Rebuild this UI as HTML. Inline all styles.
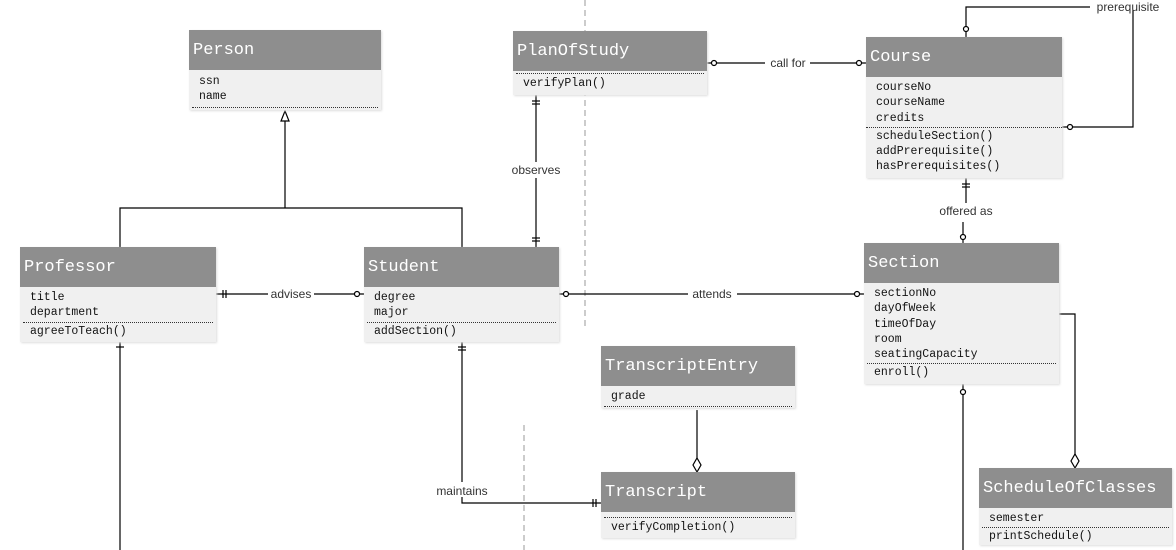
<!DOCTYPE html>
<html><head><style>
body{margin:0;width:1176px;height:550px;background:#fff;position:relative;overflow:hidden;font-family:"Liberation Mono","DejaVu Sans Mono",monospace;}
.b{position:absolute;background:#f0f0f0;box-shadow:1px 1px 2px #ddd;}
.h{background:#8e8e8e;color:#fff;height:40px;line-height:42px;font-size:17px;padding-left:4px;}
.r{font-size:11.5px;color:#111;padding-left:10px;line-height:15.3px;}
.d{border-top:1px dotted #333;margin:2px 3px;}
svg{position:absolute;left:0;top:0}
.l{font-family:"Liberation Sans",sans-serif;font-size:12px;fill:#333}
</style></head><body>
<svg width="1176" height="550">
<g stroke="#000" stroke-width="1.2" fill="none">
<line x1="585" y1="0" x2="585" y2="330" stroke="#aaa" stroke-dasharray="6,4"/>
<line x1="524" y1="425" x2="524" y2="550" stroke="#aaa" stroke-dasharray="6,4"/>
<polyline points="120,247 120,208 462,208 462,247"/>
<line x1="285" y1="208" x2="285" y2="121"/>
<polygon points="285,111 281,121 289,121" fill="#fff"/>
<line x1="536" y1="95" x2="536" y2="162"/><line x1="536" y1="178" x2="536" y2="247"/>
<line x1="532" y1="101" x2="540" y2="101"/><line x1="532" y1="104" x2="540" y2="104"/>
<line x1="532" y1="238" x2="540" y2="238"/><line x1="532" y1="241" x2="540" y2="241"/>
<line x1="707" y1="63" x2="765" y2="63"/><line x1="810" y1="63" x2="866" y2="63"/>
<circle cx="714" cy="63" r="2.5" fill="#fff"/><circle cx="859" cy="63" r="2.5" fill="#fff"/>
<polyline points="966,37 966,7 1090,7"/><polyline points="1133,10 1133,127 1062,127"/>
<circle cx="966" cy="29" r="2.5" fill="#fff"/><circle cx="1070" cy="127" r="2.5" fill="#fff"/>
<line x1="966" y1="178" x2="966" y2="203"/><line x1="963" y1="222" x2="963" y2="243"/>
<line x1="962" y1="184" x2="970" y2="184"/><line x1="962" y1="187" x2="970" y2="187"/>
<circle cx="963" cy="237" r="2.5" fill="#fff"/>
<line x1="216" y1="294" x2="268" y2="294"/><line x1="314" y1="294" x2="364" y2="294"/>
<line x1="223" y1="290" x2="223" y2="298"/><line x1="226" y1="290" x2="226" y2="298"/>
<circle cx="357" cy="294" r="2.5" fill="#fff"/>
<line x1="559" y1="294" x2="688" y2="294"/><line x1="737" y1="294" x2="864" y2="294"/>
<circle cx="566" cy="294" r="2.5" fill="#fff"/><circle cx="857" cy="294" r="2.5" fill="#fff"/>
<polyline points="1059,314 1075,314 1075,455"/>
<polygon points="1075,468 1071,461 1075,454 1079,461" fill="#fff"/>
<line x1="963" y1="384" x2="963" y2="550"/><circle cx="963" cy="392" r="2.5" fill="#fff"/>
<line x1="697" y1="410" x2="697" y2="458"/>
<polygon points="697,472 693,465 697,458 701,465" fill="#fff"/>
<line x1="462" y1="342" x2="462" y2="482"/><polyline points="462,497 462,503 601,503"/>
<line x1="458" y1="347" x2="466" y2="347"/><line x1="458" y1="350" x2="466" y2="350"/>
<line x1="593" y1="499" x2="593" y2="507"/><line x1="596" y1="499" x2="596" y2="507"/>
<line x1="120" y1="342" x2="120" y2="550"/>
<line x1="116" y1="347" x2="124" y2="347"/>
</g>
<text class="l" x="536" y="174" text-anchor="middle">observes</text>
<text class="l" x="788" y="67" text-anchor="middle">call for</text>
<text class="l" x="1128" y="11" text-anchor="middle">prerequisite</text>
<text class="l" x="966" y="215" text-anchor="middle">offered as</text>
<text class="l" x="291" y="298" text-anchor="middle">advises</text>
<text class="l" x="712" y="298" text-anchor="middle">attends</text>
<text class="l" x="462" y="495" text-anchor="middle">maintains</text>
</svg>
<div class="b" style="left:189px;top:30px;width:192px;height:80px"><div class="h">Person</div><div style="height:4px"></div><div class="r">ssn</div><div class="r">name</div><div class="d"></div></div>
<div class="b" style="left:513px;top:31px;width:194px;height:64px"><div class="h">PlanOfStudy</div><div class="d"></div><div class="r">verifyPlan()</div></div>
<div class="b" style="left:866px;top:37px;width:196px;height:141px"><div class="h">Course</div><div style="height:3px"></div><div class="r">courseNo</div><div class="r">courseName</div><div class="r">credits</div><div class="d" style="margin:1px 0"></div><div class="r">scheduleSection()</div><div class="r">addPrerequisite()</div><div class="r">hasPrerequisites()</div></div>
<div class="b" style="left:20px;top:247px;width:196px;height:95px"><div class="h">Professor</div><div style="height:3px"></div><div class="r">title</div><div class="r">department</div><div class="d" style="margin:1px 3px"></div><div class="r">agreeToTeach()</div></div>
<div class="b" style="left:364px;top:247px;width:195px;height:95px"><div class="h">Student</div><div style="height:3px"></div><div class="r">degree</div><div class="r">major</div><div class="d" style="margin:1px 3px"></div><div class="r">addSection()</div></div>
<div class="b" style="left:864px;top:243px;width:195px;height:141px"><div class="h">Section</div><div style="height:3px"></div><div class="r">sectionNo</div><div class="r">dayOfWeek</div><div class="r">timeOfDay</div><div class="r">room</div><div class="r">seatingCapacity</div><div class="d" style="margin:1px 3px"></div><div class="r">enroll()</div></div>
<div class="b" style="left:601px;top:346px;width:194px;height:62px"><div class="h">TranscriptEntry</div><div style="height:3px"></div><div class="r">grade</div><div class="d"></div></div>
<div class="b" style="left:601px;top:472px;width:194px;height:66px"><div class="h">Transcript</div><div class="d" style="margin-top:5px"></div><div class="r">verifyCompletion()</div></div>
<div class="b" style="left:979px;top:468px;width:193px;height:77px"><div class="h">ScheduleOfClasses</div><div style="height:3px"></div><div class="r">semester</div><div class="d" style="margin:1px 3px"></div><div class="r">printSchedule()</div></div>
</body></html>
